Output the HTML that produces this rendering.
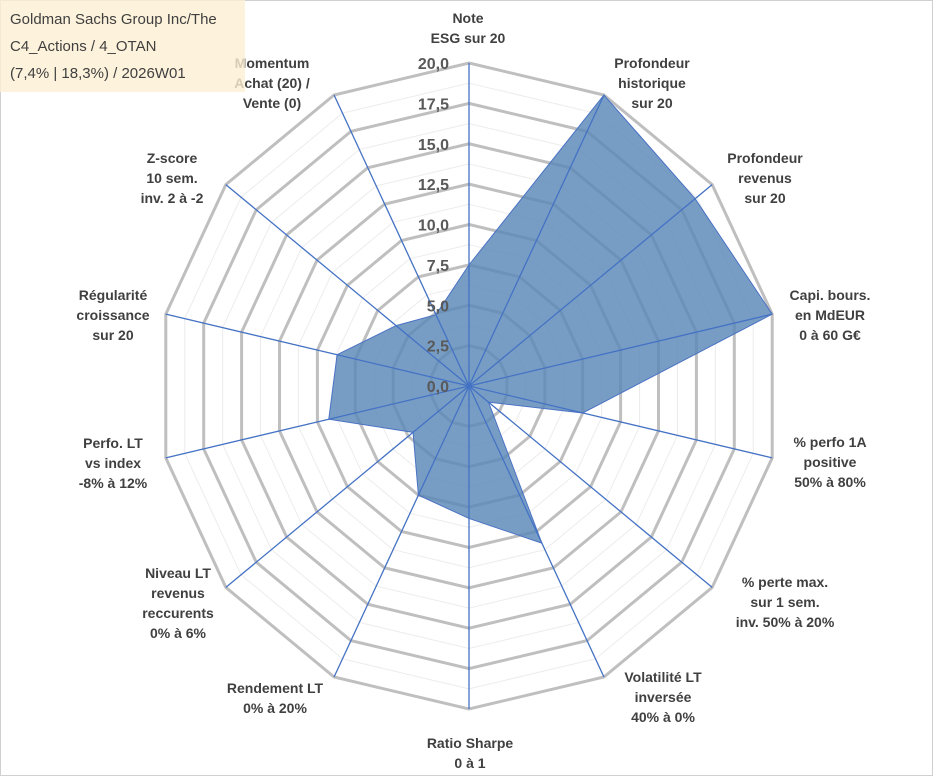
<!DOCTYPE html>
<html><head><meta charset="utf-8"><style>
body{margin:0;background:#fff;}
svg{display:block;font-family:"Liberation Sans",sans-serif;}
</style></head><body>
<svg id="chart" width="933" height="776" viewBox="0 0 933 776">
<rect x="0.5" y="0.5" width="932" height="775" fill="#fff" stroke="#d0d0d0"/>
<g id="grid"></g><g id="series"></g><g id="axes"></g><g id="ticks"></g><g id="labels"></g>
<rect x="0" y="0" width="245" height="92" fill="#fdefd2" fill-opacity="0.8"/>
<g font-size="15" fill="#404040">
<text x="10" y="24">Goldman Sachs Group Inc/The</text>
<text x="10" y="51">C4_Actions / 4_OTAN</text>
<text x="10" y="78">(7,4% | 18,3%) / 2026W01</text>
</g>
</svg>
<script>
const categories=[["Note","ESG sur 20"],["Profondeur","historique","sur 20"],["Profondeur","revenus","sur 20"],["Capi. bours.","en MdEUR","0 à 60 G€"],["% perfo 1A","positive","50% à 80%"],["% perte max.","sur 1 sem.","inv. 50% à 20%"],["Volatilité LT","inversée","40% à 0%"],["Ratio Sharpe","0 à 1"],["Rendement LT","0% à 20%"],["Niveau LT","revenus","reccurents","0% à 6%"],["Perfo. LT","vs index","-8% à 12%"],["Régularité","croissance","sur 20"],["Z-score","10 sem.","inv. 2 à -2"],["Momentum","Achat (20) /","Vente (0)"]];
const values=[7.5,20,18.6,20,7.5,1.6,10.8,8.2,7.5,4.6,9.25,8.7,6.0,4.9];
const tickLabels=["0,0","2,5","5,0","7,5","10,0","12,5","15,0","17,5","20,0"];
const labelPos=[[468,18],[652,63],[765,158],[830,295],[830,442],[785,582],[663,677],[470,743],[275,688],[178,573],[113,443],[113,295],[172,158],[272,63]];
const cx=469,cy=386,rx=311,ry=323,maxV=20,n=categories.length;
const NS="http://www.w3.org/2000/svg";
function pt(i,v){const a=-Math.PI/2+i*2*Math.PI/n;return [cx+Math.cos(a)*rx*v/maxV,cy+Math.sin(a)*ry*v/maxV];}
function el(t,a,p){const e=document.createElementNS(NS,t);for(const k in a)e.setAttribute(k,a[k]);p.appendChild(e);return e;}
const grid=document.getElementById('grid');
for(let k=1;k<=16;k++){const v=k*1.25;const pts=[];for(let i=0;i<n;i++)pts.push(pt(i,v).join(','));
const major=k%2===0;
const r=el('polygon',{points:pts.join(' '),fill:'none',stroke:major?'#bfbfbf':'#ececec','stroke-width':major?3:1},grid);

}
const sp=[];for(let i=0;i<n;i++)sp.push(pt(i,values[i]).join(','));
const poly=el('polygon',{points:sp.join(' '),fill:'#5a87b8','fill-opacity':0.82,stroke:'#4a72c4','stroke-width':1},document.getElementById('series'));


const axes=document.getElementById('axes');
for(let i=0;i<n;i++){const p=pt(i,maxV);const l=el('line',{x1:cx,y1:cy,x2:p[0],y2:p[1],stroke:'#4472c4','stroke-width':1.3},axes);

}
const ticks=document.getElementById('ticks');
tickLabels.forEach((t,k)=>{const v=k*2.5;const y=cy-ry*v/maxV;const tx=el('text',{x:449,y:y+6,'text-anchor':'end','font-size':16,'font-weight':'bold',fill:'#595959'},ticks);tx.textContent=t;

});
const labels=document.getElementById('labels');
categories.forEach((lines,i)=>{const g=el('text',{'text-anchor':'middle','font-size':14,'font-weight':'bold',fill:'#404040'},labels);


lines.forEach((s,j)=>{const ts=el('tspan',{x:labelPos[i][0],y:labelPos[i][1]+5+j*20},g);ts.textContent=s;});});
</script>
</body></html>
